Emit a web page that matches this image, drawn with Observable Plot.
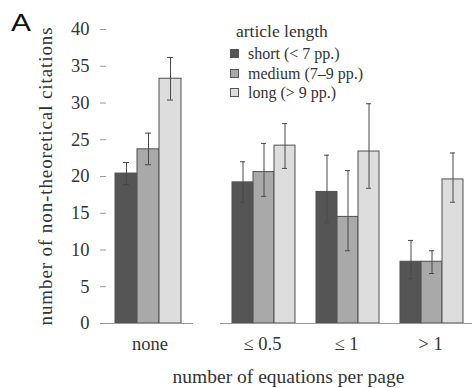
<!DOCTYPE html>
<html><head><meta charset="utf-8">
<script src="https://cdn.jsdelivr.net/npm/d3@7"></script>
<script src="https://cdn.jsdelivr.net/npm/@observablehq/plot@0.6"></script>
<style>
html,body{margin:0;padding:0;background:#fff;overflow:hidden}
#wrap{position:relative;width:472px;height:388px;overflow:hidden;font-family:"Liberation Serif","Times New Roman",serif;color:#333}
#left,#right{position:absolute;top:0}
#left{left:0px}
#right{left:200px}
#panel{position:absolute;left:11px;top:12px;font-family:"Liberation Sans",Arial,sans-serif;font-size:23px;line-height:23px;color:#111;transform:scaleX(1.3);transform-origin:left top}
#ytitle{position:absolute;left:45px;top:176px;white-space:nowrap;font-size:19px;letter-spacing:0.9px;line-height:19px;transform:translate(-50%,-50%) rotate(-90deg)}
#xtitle{position:absolute;left:288.5px;top:366.5px;white-space:nowrap;font-size:19.5px;line-height:19.5px;transform:translateX(-50%)}
#legend{position:absolute;left:229px;top:22.3px}
#legend .ttl{font-size:17.5px;line-height:19px;margin-left:7px;margin-bottom:3px;white-space:nowrap}
#legend .row{display:flex;align-items:center;font-size:16px;line-height:19.3px;white-space:nowrap}
#legend .sw{width:7px;height:7px;border:1px solid #555;margin-right:9px;margin-left:1px}
</style></head><body>
<div id="wrap">
  <div id="left"></div>
  <div id="right"></div>
  <div id="panel">A</div>
  <div id="ytitle">number of non-theoretical citations</div>
  <div id="xtitle">number of equations per page</div>
  <div id="legend"></div>
</div>
<script>
// ---- data ----
const groups = ["none", "≤ 0.5", "≤ 1", "> 1"];
const lengths = ["short", "medium", "long"];
const lengthLabels = ["short (< 7 pp.)", "medium (7–9 pp.)", "long (> 9 pp.)"];
const legendTitle = "article length";
const colors = ["#555555", "#a9a9a9", "#dddddd"];

const shortMean  = [20.4, 19.2, 17.9, 8.4];
const mediumMean = [23.7, 20.6, 14.5, 8.4];
const longMean   = [33.3, 24.2, 23.4, 19.6];

const shortHi  = [21.9, 22.0, 22.9, 11.3];
const mediumHi = [25.9, 24.5, 20.8, 9.9];
const longHi   = [36.2, 27.2, 29.9, 23.2];

const shortLo  = [18.9, 16.5, 13.7, 6.1];
const mediumLo = [21.6, 17.3, 9.9, 6.8];
const longLo   = [30.4, 21.1, 18.4, 16.5];

const yTicks = [0, 5, 10, 15, 20, 25, 30, 35, 40];

// ---- table ----
const means = [shortMean, mediumMean, longMean];
const his = [shortHi, mediumHi, longHi];
const los = [shortLo, mediumLo, longLo];
const table = [];
groups.forEach((g, gi) => lengths.forEach((l, li) => {
  table.push({group: g, length: l, mean: means[li][gi], hi: his[li][gi], lo: los[li][gi]});
}));

const FONT = '"Liberation Serif","Times New Roman",serif';

function panel(gs, {width, marginLeft, marginRight, padOuter, align, showY}) {
  const rows = table.filter(d => gs.includes(d.group));
  return Plot.plot({
    width, height: 360,
    marginTop: 29, marginBottom: 37, marginLeft, marginRight,
    style: {fontFamily: FONT, fontSize: "18.5px", color: "#333", background: "transparent", overflow: "visible"},
    fx: {domain: gs, padding: 0, label: null},
    x: {domain: lengths, paddingInner: 0, paddingOuter: padOuter, align, axis: null},
    y: showY ? {domain: [0, 40]} : {domain: [0, 40], axis: null},
    color: {domain: lengths, range: colors},
    marks: [
      showY ? Plot.axisY({ticks: yTicks, tickSize: 6, tickPadding: 11, stroke: "#9a9a9a", fill: "#333", line: true, label: null}) : null,
      Plot.axisFx({anchor: "bottom", tickSize: 0, tickPadding: 13, label: null, fill: "#333"}),
      Plot.barY(rows, {fx: "group", x: "length", y: "mean", fill: "length", stroke: "#505050", strokeWidth: 1}),
      Plot.ruleX(rows, {fx: "group", x: "length", y1: "lo", y2: "hi", stroke: "#484848", strokeWidth: 1}),
      Plot.tickY(rows, {fx: "group", x: "length", y: "hi", stroke: "#484848", insetLeft: 8, insetRight: 8}),
      Plot.tickY(rows, {fx: "group", x: "length", y: "lo", stroke: "#484848", insetLeft: 8, insetRight: 8}),
      Plot.ruleY([0], {stroke: "#9a9a9a"})
    ]
  });
}

document.getElementById("left").append(
  panel(groups.slice(0, 1), {width: 200, marginLeft: 106, marginRight: 7, padOuter: 0.477, align: 0.43, showY: true})
);
document.getElementById("right").append(
  panel(groups.slice(1), {width: 272, marginLeft: 19, marginRight: 0, padOuter: 0.4167, align: 0.57, showY: false})
);

// legend
const lg = document.getElementById("legend");
const t = document.createElement("div");
t.className = "ttl"; t.textContent = legendTitle; lg.append(t);
lengthLabels.forEach((lab, i) => {
  const r = document.createElement("div"); r.className = "row";
  const s = document.createElement("span"); s.className = "sw"; s.style.background = colors[i];
  const tx = document.createElement("span"); tx.textContent = lab;
  r.append(s, tx); lg.append(r);
});
</script>
</body></html>
